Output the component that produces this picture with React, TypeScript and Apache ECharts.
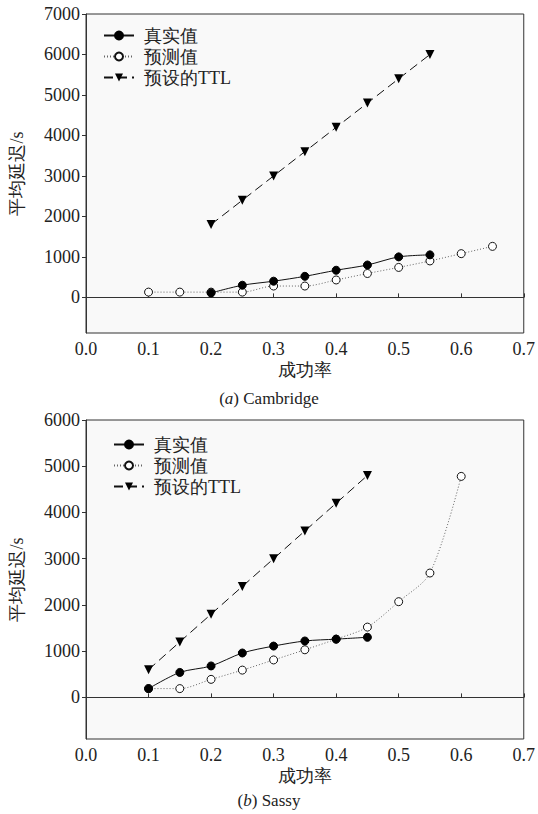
import React, { useEffect, useRef } from "react";
import * as echarts from "echarts";

const xTicks = [0, 0.1, 0.2, 0.3, 0.4, 0.5, 0.6, 0.7];
const yTicksA = [0, 1000, 2000, 3000, 4000, 5000, 6000, 7000];
const yTicksB = [0, 1000, 2000, 3000, 4000, 5000, 6000];

const seriesNames = ["真实值", "预测值", "预设的TTL"];

// (a) Cambridge
const xRealA = [0.2, 0.25, 0.3, 0.35, 0.4, 0.45, 0.5, 0.55];
const realA = [110, 300, 400, 520, 670, 800, 1000, 1050];
const xPredA = [0.1, 0.15, 0.2, 0.25, 0.3, 0.35, 0.4, 0.45, 0.5, 0.55, 0.6, 0.65];
const predA = [130, 130, 130, 130, 280, 280, 430, 590, 740, 900, 1080, 1260];
const xTtlA = [0.2, 0.25, 0.3, 0.35, 0.4, 0.45, 0.5, 0.55];
const ttlA = [1800, 2400, 3000, 3600, 4200, 4800, 5400, 6000];

// (b) Sassy
const xRealB = [0.1, 0.15, 0.2, 0.25, 0.3, 0.35, 0.4, 0.45];
const realB = [190, 540, 680, 960, 1110, 1220, 1260, 1300];
const xPredB = [0.1, 0.15, 0.2, 0.25, 0.3, 0.35, 0.4, 0.45, 0.5, 0.55, 0.6];
const predB = [190, 190, 390, 590, 810, 1030, 1260, 1520, 2070, 2690, 4780];
const xTtlB = [0.1, 0.15, 0.2, 0.25, 0.3, 0.35, 0.4, 0.45];
const ttlB = [600, 1200, 1800, 2400, 3000, 3600, 4200, 4800];

const serif = "Liberation Serif";
const txt = "#222";

const zip = (xs: number[], ys: number[]) => xs.map((x, i) => [x, ys[i]]);

const richSerif = {
  n: { fontFamily: serif, fontSize: 18, color: txt },
};

function makeSeries(idx: number, xr: number[], r: number[], xp: number[], p: number[], xt: number[], t: number[]) {
  return [
    {
      name: seriesNames[0],
      type: "line",
      xAxisIndex: idx,
      yAxisIndex: idx,
      data: zip(xr, r),
      smooth: 0.3,
      symbol: "circle",
      symbolSize: 8,
      itemStyle: { color: "#000", borderColor: "#000", borderWidth: 1 },
      lineStyle: { color: "#111", width: 1, type: "solid" },
      z: 4,
    },
    {
      name: seriesNames[1],
      type: "line",
      xAxisIndex: idx,
      yAxisIndex: idx,
      data: zip(xp, p),
      smooth: 0.3,
      symbol: "circle",
      symbolSize: 8,
      itemStyle: { color: "#fff", borderColor: "#111", borderWidth: 1 },
      lineStyle: { color: "#666", width: 1, type: [1, 2] },
      z: 3,
    },
    {
      name: seriesNames[2],
      type: "line",
      xAxisIndex: idx,
      yAxisIndex: idx,
      data: zip(xt, t),
      symbol: "triangle",
      symbolRotate: 180,
      symbolSize: 9,
      itemStyle: { color: "#000", borderColor: "#000", borderWidth: 0 },
      lineStyle: { color: "#111", width: 1, type: [9, 5] },
      z: 2,
    },
  ];
}

function xAxisCfg(idx: number) {
  return {
    type: "value",
    gridIndex: idx,
    min: xTicks[0],
    max: xTicks[xTicks.length - 1],
    interval: 0.1,
    axisLine: { show: true, lineStyle: { color: "#333", width: 1 } },
    axisTick: { show: true, inside: true, length: 4, lineStyle: { color: "#333" } },
    axisLabel: {
      margin: 7,
      fontFamily: serif,
      fontSize: 18,
      color: txt,
      formatter: (v: number) => "{n|" + v.toFixed(1) + "}",
      rich: richSerif,
    },
    splitLine: { show: false },
    name: "成功率",
    nameLocation: "middle",
    nameGap: 28,
    nameTextStyle: { fontFamily: serif, fontSize: 18, color: txt },
  };
}

function yAxisCfg(idx: number, min: number, max: number, ticks: number[]) {
  return {
    type: "value",
    gridIndex: idx,
    min,
    max,
    axisLine: { show: true, lineStyle: { color: "#333", width: 1 } },
    axisTick: { show: true, inside: false, length: 4, customValues: ticks, lineStyle: { color: "#333" } },
    axisLabel: {
      margin: 6,
      fontFamily: serif,
      fontSize: 18,
      color: txt,
      customValues: ticks,
      formatter: (v: number) => "{n|" + String(v) + "}",
      rich: richSerif,
    },
    splitLine: { show: false },
    name: "平均延迟/s",
    nameLocation: "middle",
    nameGap: 60,
    nameRotate: 90,
    nameTextStyle: { fontFamily: serif, fontSize: 18, color: txt },
  };
}

function legendCfg(left: number, top: number) {
  return {
    orient: "vertical",
    left,
    top,
    itemWidth: 30,
    itemHeight: 10,
    itemGap: 2,
    data: seriesNames,
    formatter: (name: string) => "{n|" + name + "}",
    textStyle: {
      fontFamily: serif,
      fontSize: 18,
      color: txt,
      lineHeight: 19,
      padding: [0, 0, 0, 5],
      rich: { n: { fontFamily: serif, fontSize: 18, color: txt, lineHeight: 19 } },
    },
  };
}

const richCap = {
  i: { fontFamily: serif, fontSize: 17, fill: txt },
  it: { fontFamily: serif, fontSize: 17, fontStyle: "italic", fill: txt },
};

export default function App() {
  const ref = useRef<HTMLDivElement>(null);
  useEffect(() => {
    if (!ref.current) return;
    const chart = echarts.init(ref.current, undefined, { renderer: "svg" });
    chart.setOption({
      animation: false,
      backgroundColor: "#fff",
      textStyle: { fontFamily: serif },
      grid: [
        { left: 86, top: 14, right: 12, height: 319, show: true, backgroundColor: "#f9f9f9", borderColor: "#333", borderWidth: 1 },
        { left: 86, top: 420, right: 12, height: 319, show: true, backgroundColor: "#f9f9f9", borderColor: "#333", borderWidth: 1 },
      ],
      xAxis: [xAxisCfg(0), xAxisCfg(1)],
      yAxis: [yAxisCfg(0, -880, 7000, yTicksA), yAxisCfg(1, -900, 6000, yTicksB)],
      legend: [legendCfg(98, 21), legendCfg(108, 430)],
      series: [
        ...makeSeries(0, xRealA, realA, xPredA, predA, xTtlA, ttlA),
        ...makeSeries(1, xRealB, realB, xPredB, predB, xTtlB, ttlB),
      ],
      graphic: [
        {
          type: "text",
          left: "center",
          top: 390,
          style: { text: "{i|(}{it|a}{i|) Cambridge}", rich: richCap },
        },
        {
          type: "text",
          left: "center",
          top: 792,
          style: { text: "{i|(}{it|b}{i|) Sassy}", rich: richCap },
        },
      ],
    });
    return () => chart.dispose();
  }, []);
  return (
    <div
      ref={ref}
      style={{ position: "absolute", left: 0, top: 0, width: 538, height: 814 }}
    />
  );
}
